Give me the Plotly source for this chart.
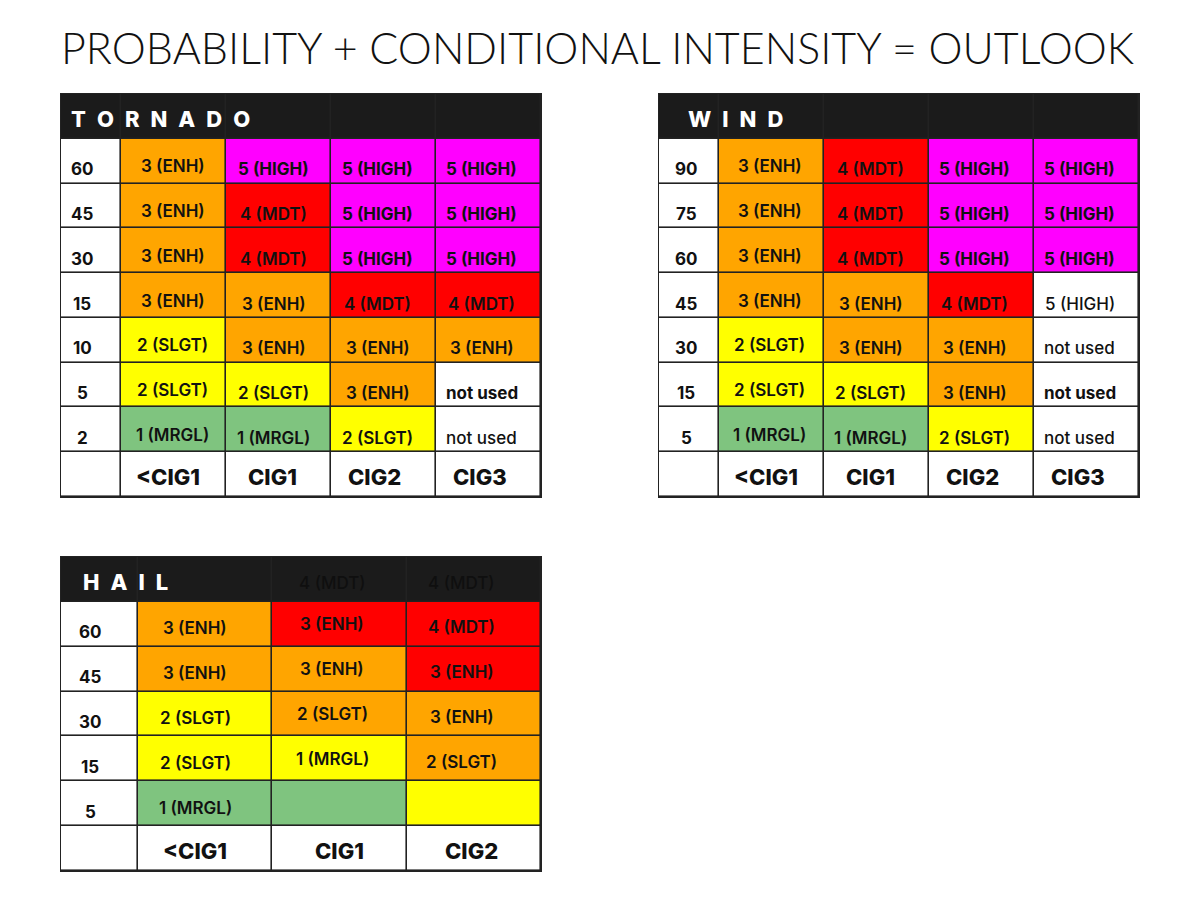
import plotly.graph_objects as go

title = "PROBABILITY + CONDITIONAL INTENSITY = OUTLOOK"

# risk level used for the cell fill: 0 none, 1 MRGL, 2 SLGT, 3 ENH, 4 MDT, 5 HIGH
tornado_probs = ["60", "45", "30", "15", "10", "5", "2"]
tornado_cols = ["<CIG1", "CIG1", "CIG2", "CIG3"]
tornado_text = [
    ["3 (ENH)", "5 (HIGH)", "5 (HIGH)", "5 (HIGH)"],
    ["3 (ENH)", "4 (MDT)", "5 (HIGH)", "5 (HIGH)"],
    ["3 (ENH)", "4 (MDT)", "5 (HIGH)", "5 (HIGH)"],
    ["3 (ENH)", "3 (ENH)", "4 (MDT)", "4 (MDT)"],
    ["2 (SLGT)", "3 (ENH)", "3 (ENH)", "3 (ENH)"],
    ["2 (SLGT)", "2 (SLGT)", "3 (ENH)", "not used"],
    ["1 (MRGL)", "1 (MRGL)", "2 (SLGT)", "not used"],
]
tornado_level = [
    [3, 5, 5, 5],
    [3, 4, 5, 5],
    [3, 4, 5, 5],
    [3, 3, 4, 4],
    [2, 3, 3, 3],
    [2, 2, 3, 0],
    [1, 1, 2, 0],
]

wind_probs = ["90", "75", "60", "45", "30", "15", "5"]
wind_cols = ["<CIG1", "CIG1", "CIG2", "CIG3"]
wind_text = [
    ["3 (ENH)", "4 (MDT)", "5 (HIGH)", "5 (HIGH)"],
    ["3 (ENH)", "4 (MDT)", "5 (HIGH)", "5 (HIGH)"],
    ["3 (ENH)", "4 (MDT)", "5 (HIGH)", "5 (HIGH)"],
    ["3 (ENH)", "3 (ENH)", "4 (MDT)", "5 (HIGH)"],
    ["2 (SLGT)", "3 (ENH)", "3 (ENH)", "not used"],
    ["2 (SLGT)", "2 (SLGT)", "3 (ENH)", "not used"],
    ["1 (MRGL)", "1 (MRGL)", "2 (SLGT)", "not used"],
]
wind_level = [
    [3, 4, 5, 5],
    [3, 4, 5, 5],
    [3, 4, 5, 5],
    [3, 3, 4, 0],
    [2, 3, 3, 0],
    [2, 2, 3, 0],
    [1, 1, 2, 0],
]

hail_probs = ["60", "45", "30", "15", "5"]
hail_cols = ["<CIG1", "CIG1", "CIG2"]
hail_header = ["", "4 (MDT)", "4 (MDT)"]
hail_text = [
    ["3 (ENH)", "3 (ENH)", "4 (MDT)"],
    ["3 (ENH)", "3 (ENH)", "3 (ENH)"],
    ["2 (SLGT)", "2 (SLGT)", "3 (ENH)"],
    ["2 (SLGT)", "1 (MRGL)", "2 (SLGT)"],
    ["1 (MRGL)", "", ""],
]
hail_level = [
    [3, 4, 4],
    [3, 3, 4],
    [2, 3, 3],
    [2, 2, 3],
    [1, 1, 2],
]

FONT = "Inter"
HEADER_BLACK = "#1b1b1b"
colors = ["#ffffff", "#7fc47f", "#ffff00", "#ffa500", "#ff0000", "#ff00ff", HEADER_BLACK]
colorscale = []
for i, c in enumerate(colors):
    colorscale += [[i / len(colors), c], [(i + 1) / len(colors), c]]

# page has an 8px body margin, so the figure is a bit smaller than the window
W, H, PAD = 1184, 884, 8


def dx(a, b):
    return [(a - PAD) / W, (b - PAD) / W]


def dy(top, bottom):
    return [1 - (bottom - PAD) / H, 1 - (top - PAD) / H]


tables = [
    dict(name="TORNADO", probs=tornado_probs, cols=tornado_cols, text=tornado_text,
         level=tornado_level, header=None, ax="", dom_x=dx(61, 541),
         dom_y=dy(94, 497), title_shift=8,
         lab_dx=-9, col_dx=[-1, -5, -6, -7], col_dy=[-5, -8, -8, -8],
         foot_dx=[-6, -6, -9, -9], bold={(5, 3)}, light={(6, 3)}),
    dict(name="WIND", probs=wind_probs, cols=wind_cols, text=wind_text,
         level=wind_level, header=None, ax="2", dom_x=dx(659, 1139),
         dom_y=dy(94, 497), title_shift=27,
         lab_dx=-3, col_dx=[-2, -6, -7, -7], col_dy=[-5, -8, -8, -8],
         foot_dx=[-6, -6, -9, -9], bold={(5, 3)}, light={(3, 3), (4, 3), (6, 3)}),
    dict(name="HAIL", probs=hail_probs, cols=hail_cols, text=hail_text,
         level=hail_level, header=hail_header, ax="3", dom_x=dx(61, 541),
         dom_y=dy(557, 871), title_shift=20,
         lab_dx=-9, col_dx=[-10, -7, -12], col_dy=[-4, 0, -3],
         foot_dx=[-10, 0, -2], bold=set(), light=set()),
]

LABEL_W = 0.572

fig = go.Figure()
annotations = []

for t in tables:
    ncol = len(t["cols"])
    nrow = len(t["probs"])
    # z grid: header row, data rows, footer row; label column first
    z = [[6] * (ncol + 1)]
    for r in range(nrow):
        z.append([0] + t["level"][r])
    z.append([0] * (ncol + 1))
    x_edges = [0, LABEL_W] + [LABEL_W + i + 1 for i in range(ncol)]
    y_rows = list(range(nrow + 2))
    centers = [(x_edges[i] + x_edges[i + 1]) / 2 for i in range(ncol + 1)]
    xa, ya = "x" + t["ax"], "y" + t["ax"]

    fig.add_trace(go.Heatmap(
        z=z, x=x_edges, y=y_rows, xaxis=xa, yaxis=ya,
        colorscale=colorscale, zmin=-0.5, zmax=6.5, showscale=False,
        xgap=1.6, ygap=1.6, hoverinfo="skip",
    ))

    # header title with wide letter spacing
    annotations.append(dict(
        x=0, y=0, xref=xa, yref=ya, xanchor="left", yanchor="middle",
        xshift=t["title_shift"], yshift=-3,
        text="\u2002".join(t["name"]), showarrow=False,
        font=dict(family=FONT, size=22, color="white", weight=800),
    ))
    if t["header"]:
        for c, txt in enumerate(t["header"]):
            if txt:
                annotations.append(dict(
                    x=centers[c + 1], y=0, xref=xa, yref=ya,
                    xshift=t["col_dx"][c], yshift=-4 + (2 if c == 0 else 0),
                    text=txt, showarrow=False,
                    font=dict(family=FONT, size=17, color="#0f0f0f", weight=500),
                ))

    for r in range(nrow):
        annotations.append(dict(
            x=centers[0], y=r + 1, xref=xa, yref=ya,
            xshift=t["lab_dx"], yshift=-8,
            text=t["probs"][r], showarrow=False,
            font=dict(family=FONT, size=17, color="#111111", weight=700),
        ))
        for c in range(ncol):
            txt = t["text"][r][c]
            if not txt:
                continue
            lvl = t["level"][r][c]
            if (r, c) in t["bold"]:
                w = 700
            elif (r, c) in t["light"]:
                w = 500
            elif lvl == 5:
                w = 700
            else:
                w = 600
            annotations.append(dict(
                x=centers[c + 1], y=r + 1, xref=xa, yref=ya,
                xshift=t["col_dx"][c], yshift=t["col_dy"][c],
                text=txt, showarrow=False,
                font=dict(family=FONT, size=17, color="#111111", weight=w),
            ))

    for c, lab in enumerate(t["cols"]):
        annotations.append(dict(
            x=centers[c + 1], y=nrow + 1, xref=xa, yref=ya,
            xshift=t["foot_dx"][c], yshift=-2,
            text=lab, showarrow=False,
            font=dict(family=FONT, size=22, color="#111111", weight=800),
        ))

    axis_common = dict(showgrid=False, zeroline=False, showticklabels=False,
                       ticks="", showline=True, mirror=True,
                       linecolor="#222222", linewidth=1, fixedrange=True)
    fig.update_layout(**{
        "xaxis" + t["ax"]: dict(domain=t["dom_x"], range=[0, x_edges[-1]],
                                anchor=ya, **axis_common),
        "yaxis" + t["ax"]: dict(domain=t["dom_y"], range=[nrow + 1.5, -0.5],
                                anchor=xa, **axis_common),
    })

annotations.append(dict(
    x=(597 - PAD) / W, y=1 - (48 - PAD) / H, xref="paper", yref="paper",
    xanchor="center", yanchor="middle",
    text=title, showarrow=False,
    font=dict(family="Lato", size=43, color="#111111", weight=300),
))

fig.update_layout(
    width=W, height=H,
    margin=dict(l=0, r=0, t=0, b=0),
    paper_bgcolor="white", plot_bgcolor="#222222",
    annotations=annotations, showlegend=False,
)

fig.write_html("out.html")
